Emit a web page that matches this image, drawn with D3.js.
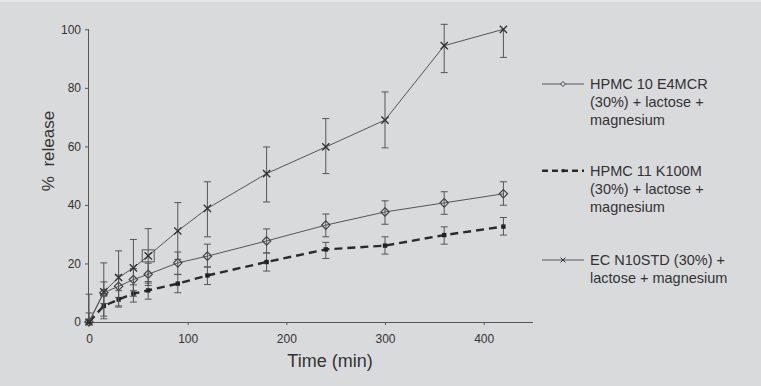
<!DOCTYPE html>
<html><head><meta charset="utf-8">
<script src="https://cdn.jsdelivr.net/npm/d3@7"></script>
<style>
html,body{margin:0;padding:0;background:#d9dadc;}
svg{display:block;}
text{font-family:"Liberation Sans",Arial,sans-serif;fill:#333;}
</style></head>
<body>
<svg id="c" width="761" height="386"></svg>
<script>
const times = [0, 15, 30, 45, 60, 90, 120, 180, 240, 300, 360, 420];
const seriesNames = [
  ["HPMC 10 E4MCR", "(30%) + lactose +", "magnesium"],
  ["HPMC 11 K100M", "(30%) + lactose +", "magnesium"],
  ["EC N10STD (30%) +", "lactose + magnesium"]
];
const hpmc10 = [0, 10.0, 12.2, 14.5, 16.3, 20.2, 22.5, 27.7, 33.1, 37.6, 40.7, 43.8];
const hpmc10ErrUp = [0, 3.7, 3.8, 3.8, 3.8, 3.7, 4.1, 4.1, 3.8, 3.8, 3.8, 4.1];
const hpmc10ErrDown = [0, 3.7, 3.8, 3.8, 3.8, 3.9, 3.7, 4.1, 4.0, 4.2, 3.9, 3.9];
const hpmc11 = [0, 5.5, 7.7, 9.7, 10.8, 13.1, 15.9, 20.5, 24.8, 26.1, 29.7, 32.6];
const hpmc11ErrUp = [3.1, 3.3, 3.0, 3.0, 3.0, 3.1, 2.9, 3.1, 2.4, 3.0, 2.8, 3.1];
const hpmc11ErrDown = [0, 3.5, 2.6, 2.9, 3.0, 3.1, 3.1, 3.1, 3.1, 2.9, 3.1, 2.9];
const ec = [0, 10.3, 15.2, 18.5, 22.6, 31.1, 38.8, 50.7, 59.8, 69.0, 94.4, 100];
const ecErrUp = [9.5, 9.9, 9.1, 9.7, 9.3, 9.7, 9.1, 9.1, 9.7, 9.6, 7.3, 0];
const ecErrDown = [0, 9.2, 9.7, 9.7, 9.3, 9.7, 9.7, 9.7, 9.1, 9.5, 9.2, 9.6];
const xTicks = [0, 100, 200, 300, 400];
const yTicks = [0, 20, 40, 60, 80, 100];
const highlightTime = 60;

const svg = d3.select("#c");
const x = d3.scaleLinear().domain([0, 450]).range([89, 533]);
const y = d3.scaleLinear().domain([0, 100]).range([322, 29.3]);
const axisColor = "#555";

// top light edge
svg.append("rect").attr("x",0).attr("y",0).attr("width",761).attr("height",2).attr("fill","#e6e7e8");

// axes
const gx = svg.append("g").attr("transform", `translate(0,${y(0)})`)
  .call(d3.axisBottom(x).tickValues(xTicks).tickSize(3).tickPadding(9).tickFormat(d3.format("d")));
const gy = svg.append("g").attr("transform", `translate(${x(0)},0)`)
  .call(d3.axisLeft(y).tickValues(yTicks).tickSize(4).tickPadding(4).tickFormat(d3.format("d")));
[gx, gy].forEach(g => {
  g.select(".domain").attr("stroke", axisColor).attr("stroke-width", 1);
  g.selectAll(".tick line").attr("stroke", axisColor);
  g.selectAll(".tick text").attr("font-size", 12).attr("fill", "#333")
    .attr("font-family", '"Liberation Sans",Arial,sans-serif');
});
gx.select(".domain").attr("d", `M${x(0)},0.5H${x(450)}`);
gy.select(".domain").attr("d", `M-0.5,${y(0)}V${y(100)}`);

// axis titles
svg.append("text").attr("x", 330).attr("y", 367).attr("text-anchor", "middle")
  .attr("font-size", 18).text("Time (min)");
svg.append("text").attr("transform", "translate(54,151) rotate(-90)").attr("text-anchor", "middle")
  .attr("font-size", 17).attr("xml:space","preserve").text("%  release");

const series = [
  {vals: hpmc10, up: hpmc10ErrUp, dn: hpmc10ErrDown, marker: "diamond", dash: null, width: 1, color: "#555"},
  {vals: hpmc11, up: hpmc11ErrUp, dn: hpmc11ErrDown, marker: "square", dash: "8,5", width: 2.4, color: "#2a2a2a"},
  {vals: ec, up: ecErrUp, dn: ecErrDown, marker: "cross", dash: null, width: 1, color: "#555"}
];

const line = d3.line().x(d => x(d[0])).y(d => y(d[1]));
const capW = 3.5;

series.forEach(s => {
  const pts = times.map((t, i) => [t, s.vals[i], s.up[i], s.dn[i]]);
  const eb = svg.append("g").attr("stroke", "#555").attr("stroke-width", 1).attr("fill", "none");
  pts.forEach(p => {
    const cx = x(p[0]);
    const top = y(p[1] + p[2]), bot = y(Math.max(0, p[1] - p[3]));
    if (p[2] > 0 || p[3] > 0) {
      eb.append("line").attr("x1", cx).attr("x2", cx).attr("y1", top).attr("y2", bot);
    }
    if (p[2] > 0) eb.append("line").attr("x1", cx - capW).attr("x2", cx + capW).attr("y1", top).attr("y2", top);
    if (p[3] > 0) eb.append("line").attr("x1", cx - capW).attr("x2", cx + capW).attr("y1", bot).attr("y2", bot);
  });
  svg.append("path").datum(pts).attr("d", line).attr("fill", "none")
    .attr("stroke", s.color).attr("stroke-width", s.width)
    .attr("stroke-dasharray", s.dash);
  drawMarkers(pts, s.marker);
});

function drawMarker(g, cx, cy, type) {
  if (type === "diamond") {
    const r = 4.2;
    g.append("path").attr("d", `M${cx},${cy - r}L${cx + r},${cy}L${cx},${cy + r}L${cx - r},${cy}Z`)
      .attr("fill", "none").attr("stroke", "#444").attr("stroke-width", 1.2);
  } else if (type === "square") {
    g.append("rect").attr("x", cx - 2.2).attr("y", cy - 2.2).attr("width", 4.4).attr("height", 4.4)
      .attr("fill", "#222");
  } else if (type === "cross") {
    const r = 3.6;
    g.append("path").attr("d", `M${cx - r},${cy - r}L${cx + r},${cy + r}M${cx - r},${cy + r}L${cx + r},${cy - r}`)
      .attr("stroke", "#333").attr("stroke-width", 1.4).attr("fill", "none");
  }
}
function drawMarkers(pts, type) {
  const g = svg.append("g");
  pts.forEach(p => drawMarker(g, x(p[0]), y(p[1]), type));
}

// highlighted point box on EC series
const hi = times.indexOf(highlightTime);
svg.append("rect").attr("x", x(highlightTime) - 6).attr("y", y(ec[hi]) - 6)
  .attr("width", 12).attr("height", 12).attr("fill", "none").attr("stroke", "#555").attr("stroke-width", 1);

// legend
const legY = [84, 170.7, 260];
const lg = svg.append("g");
series.forEach((s, i) => {
  const ly = legY[i];
  lg.append("line").attr("x1", 542).attr("x2", 584).attr("y1", ly).attr("y2", ly)
    .attr("stroke", s.color).attr("stroke-width", s.width).attr("stroke-dasharray", s.dash ? "6,4" : null);
  const mg = lg.append("g");
  if (s.marker === "diamond") {
    mg.append("path").attr("d", `M563,${ly - 2.5}L565.5,${ly}L563,${ly + 2.5}L560.5,${ly}Z`)
      .attr("fill", "#d9dadc").attr("stroke", "#444");
  } else if (s.marker === "square") {
    mg.append("rect").attr("x", 561.5).attr("y", ly - 1.5).attr("width", 3).attr("height", 3).attr("fill", "#222");
  } else {
    mg.append("path").attr("d", `M560.5,${ly - 2.5}L565.5,${ly + 2.5}M560.5,${ly + 2.5}L565.5,${ly - 2.5}`)
      .attr("stroke", "#333").attr("stroke-width", 1);
  }
  seriesNames[i].forEach((t, j) => {
    lg.append("text").attr("x", 590).attr("y", ly + 5.2 + j * 18).attr("font-size", 14.5).text(t);
  });
});
</script>
</body></html>
